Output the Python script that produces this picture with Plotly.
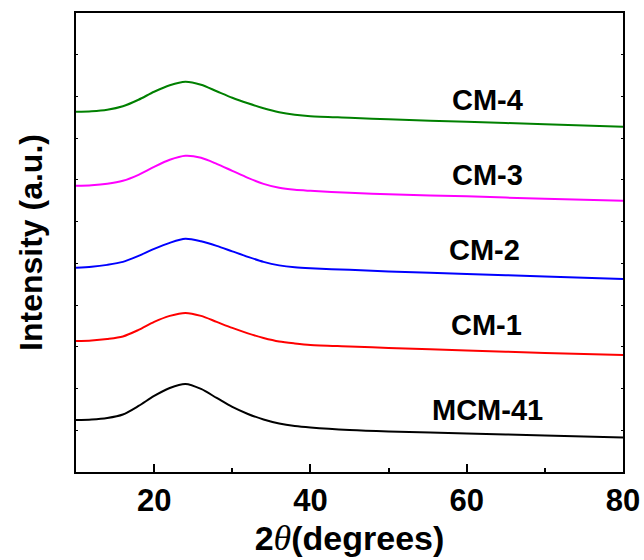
import plotly.graph_objects as go

# 2theta sample positions (degrees)
two_theta = [10, 12, 14, 16, 18, 20, 22, 24, 26, 28, 30, 32, 34, 36, 38, 40, 45, 50, 60, 70, 80]

# Intensities (a.u., vertically offset as in the figure)
mcm41 = [1.247, 1.259, 1.295, 1.379, 1.583, 1.823, 2.014, 2.110, 1.990, 1.775, 1.559,
         1.391, 1.259, 1.163, 1.103, 1.067, 1.007, 0.971, 0.923, 0.875, 0.827]
cm1 = [3.141, 3.153, 3.189, 3.249, 3.405, 3.597, 3.741, 3.813, 3.741, 3.597, 3.453,
       3.321, 3.213, 3.129, 3.082, 3.046, 3.010, 2.974, 2.914, 2.854, 2.806]
cm2 = [4.892, 4.916, 4.964, 5.036, 5.180, 5.348, 5.492, 5.588, 5.528, 5.420, 5.288,
       5.156, 5.036, 4.952, 4.904, 4.880, 4.844, 4.808, 4.748, 4.688, 4.628]
cm3 = [6.859, 6.871, 6.906, 6.978, 7.122, 7.314, 7.482, 7.578, 7.530, 7.386, 7.218,
       7.050, 6.906, 6.811, 6.763, 6.739, 6.691, 6.655, 6.607, 6.547, 6.499]
cm4 = [8.633, 8.645, 8.681, 8.765, 8.921, 9.113, 9.269, 9.353, 9.281, 9.125, 8.969,
       8.837, 8.717, 8.621, 8.561, 8.525, 8.489, 8.453, 8.393, 8.333, 8.273]

names = ["MCM-41", "CM-1", "CM-2", "CM-3", "CM-4"]
series = [mcm41, cm1, cm2, cm3, cm4]
colors = ["#000000", "#ff0000", "#0000ff", "#ff00ff", "#008000"]
label_x = [62.6, 62.5, 62.3, 62.6, 62.6]
label_y = [1.49, 3.53, 5.32, 7.12, 8.92]

fig = go.Figure()
for n, s, c in zip(names, series, colors):
    fig.add_trace(go.Scatter(x=two_theta, y=s, mode="lines", name=n,
                             line=dict(color=c, width=2, shape="spline", smoothing=0.8),
                             showlegend=False, hoverinfo="skip"))

font_main = "Liberation Sans, Arial, sans-serif"
for n, lx, ly in zip(names, label_x, label_y):
    fig.add_annotation(x=lx, y=ly, text="<b>%s</b>" % n, showarrow=False,
                       font=dict(family=font_main, size=29, color="black"))

theta = "<i><span style='font-family:Liberation Serif, Times New Roman, serif;font-size:36px'>θ</span></i>"

fig.update_layout(
    width=644, height=560,
    margin=dict(l=76, r=21, t=13, b=88),
    plot_bgcolor="white", paper_bgcolor="white",
    font=dict(family=font_main, color="black"),
    xaxis=dict(range=[10, 80], tickmode="array", tickvals=[20, 40, 60, 80],
               ticktext=["<b>20</b>", "<b>40</b>", "<b>60</b>", "<b>80</b>"],
               ticks="inside", ticklen=8, tickwidth=1.5, tickcolor="black",
               minor=dict(tickvals=[30, 50, 70], ticks="inside", ticklen=4, tickwidth=1.5, tickcolor="black"),
               showline=True, linecolor="black", linewidth=2, mirror=True,
               showgrid=False, zeroline=False, automargin=False,
               tickfont=dict(size=31, family=font_main),
               title=dict(text="<b>2</b>" + theta + "<b>(degrees)</b>",
                          font=dict(size=34, family=font_main), standoff=8)),
    xaxis2=dict(range=[10, 80], overlaying="x", side="top", anchor="y",
                tickvals=[20, 30, 40, 50, 60, 70], ticks="inside", ticklen=2, tickcolor="black",
                showticklabels=False, showgrid=False, zeroline=False, showline=False),
    yaxis=dict(range=[0, 11], dtick=1, ticks="inside", ticklen=2, tickwidth=1, tickcolor="black",
               showticklabels=False, showline=True, linecolor="black", linewidth=2,
               mirror="allticks", showgrid=False, zeroline=False, automargin=False,
               title=dict(text="<b>Intensity (a.u.)</b>", font=dict(size=32, family=font_main), standoff=22)),
)

fig.write_html("out.html")
